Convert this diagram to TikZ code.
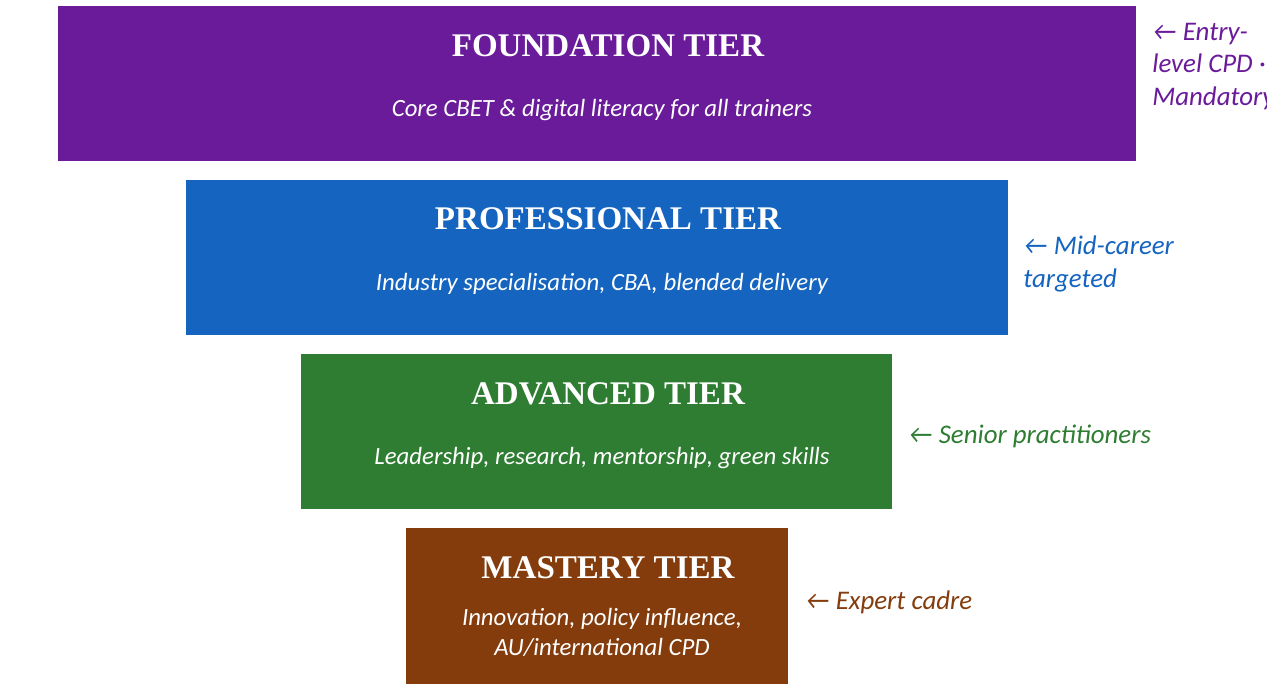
\documentclass[tikz,border=0pt]{standalone}
\usepackage{fontspec}
\setmainfont{Carlito}
\newfontfamily\tiertitlefont{Liberation Serif}
\usetikzlibrary{positioning}

\definecolor{foundcol}{HTML}{6A1B9A}
\definecolor{profcol}{HTML}{1565C0}
\definecolor{advcol}{HTML}{2E7D32}
\definecolor{mastcol}{HTML}{843C0C}

\begin{document}
\begin{tikzpicture}[
		tierbox/.style={rectangle, inner sep=0pt, minimum height=3.1cm},
		tiertitle/.style={text=white, font=\tiertitlefont\fontsize{18.8}{22}\selectfont\bfseries},
		tiersub/.style={text=white, align=center, font=\fontsize{14.1}{17}\selectfont\itshape},
		sidenote/.style={anchor=west, inner sep=0pt, align=left, font=\fontsize{15.3}{18.3}\selectfont\itshape}
		]
		
		\useasboundingbox (0,0) rectangle (25.34,-13.68);
		
		% Foundation tier
		\node[tierbox, fill=foundcol, minimum width=21.56cm] (fb) at (11.94, -1.67) {};
		\node[tiertitle] (ft) at (12.16, -0.92) {FOUNDATION TIER};
		\node[tiersub] (fs) at (12.04, -2.20) {Core CBET \& digital literacy for all trainers};
		\node[sidenote, text=foundcol] (fn) at (23.04, -1.33) {← Entry-\\level CPD ·\\Mandatory};
		
		% Professional tier
		\node[tierbox, fill=profcol, minimum width=16.44cm] (pb) at (11.94, -5.15) {};
		\node[tiertitle] (pt) at (12.16, -4.38) {PROFESSIONAL TIER};
		\node[tiersub] (ps) at (12.04, -5.68) {Industry specialisation, CBA, blended delivery};
		\node[sidenote, text=profcol] (pn) at (20.46, -5.28) {← Mid-career\\targeted};
		
		% Advanced tier
		\node[tierbox, fill=advcol, minimum width=11.82cm] (ab) at (11.93, -8.63) {};
		\node[tiertitle] (at) at (12.16, -7.88) {ADVANCED TIER};
		\node[tiersub] (as) at (12.04, -9.16) {Leadership, research, mentorship, green skills};
		\node[sidenote, text=advcol] (an) at (18.16, -8.72) {← Senior practitioners};
		
		% Mastery tier
		\node[tierbox, fill=mastcol, minimum width=7.64cm, minimum height=3.12cm] (mb) at (11.94, -12.12) {};
		\node[tiertitle] (mt) at (12.16, -11.36) {MASTERY TIER};
		\node[tiersub] (ms) at (12.04, -12.64) {Innovation, policy influence,\\AU/international CPD};
		\node[sidenote, text=mastcol] (mn) at (16.10, -12.04) {← Expert cadre};
		
	\end{tikzpicture}
\end{document}
